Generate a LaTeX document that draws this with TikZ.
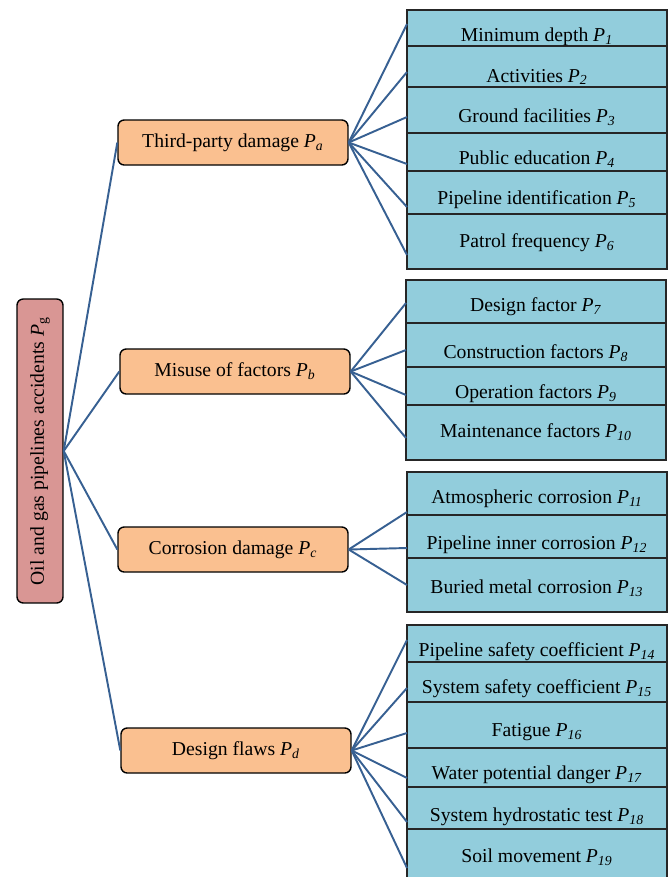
\documentclass[tikz,border=0pt]{standalone}
\usepackage{fontspec}
\setmainfont{Liberation Serif}
\usetikzlibrary{positioning}

\definecolor{rootred}{RGB}{217,150,148}
\definecolor{catorange}{RGB}{250,192,144}
\definecolor{leafblue}{RGB}{146,205,220}
\definecolor{linkblue}{RGB}{55,96,146}

\newcommand{\Pidx}[1]{\textit{P}\textsubscript{\textit{#1}}}

\begin{document}
\begin{tikzpicture}[x=0.02cm, y=-0.02cm,
	root/.style={rectangle, rounded corners=3.5pt, draw=black, fill=rootred, line width=0.8pt, minimum width=6.08cm, minimum height=0.92cm, inner sep=0pt, font=\fontsize{11.2}{13.4}\selectfont},
	cat/.style={rectangle, rounded corners=3.5pt, draw=black, fill=catorange, line width=0.8pt, minimum width=4.6cm, minimum height=0.9cm, inner sep=0pt, font=\fontsize{11.2}{13.4}\selectfont},
	leaf/.style={rectangle, draw=black!85, fill=leafblue, line width=0.8pt, minimum width=5.2cm, outer sep=0pt, inner sep=0pt},
	leaftext/.style={inner sep=0pt, font=\fontsize{11.2}{13.4}\selectfont},
	link/.style={draw=linkblue, line width=1.1pt}]

	\useasboundingbox (0,0) rectangle (672,877);

	% root and the four groups
	\node[root, rotate=90] (pg) at (40,451) {Oil and gas pipelines accidents \textit{P}\textsubscript{g}};
	\node[cat] (pa) at (233,142.5) {Third-party damage \Pidx{a}};
	\node[cat] (pb) at (235,371.5) {Misuse of factors \Pidx{b}};
	\node[cat] (pc) at (233,549.5) {Corrosion damage \Pidx{c}};
	\node[cat] (pd) at (236,750.5) {Design flaws \Pidx{d}};

	\draw[link] (pg.south) -- (pa.west);
	\draw[link] (pg.south) -- (pb.west);
	\draw[link] (pg.south) -- (pc.west);
	\draw[link] (pg.south) -- (pd.west);

	% third-party damage
	\node[leaf, minimum height=0.72cm, anchor=north] (p1) at (537,10) {};
	\node[leaf, minimum height=0.82cm, below=0pt of p1] (p2) {};
	\node[leaf, minimum height=0.92cm, below=0pt of p2] (p3) {};
	\node[leaf, minimum height=0.76cm, below=0pt of p3] (p4) {};
	\node[leaf, minimum height=0.86cm, below=0pt of p4] (p5) {};
	\node[leaf, minimum height=1.10cm, below=0pt of p5] (p6) {};
	\node[leaftext] (t1) at (537,37) {Minimum depth \Pidx{1}};
	\node[leaftext] (t2) at (537,77) {Activities \Pidx{2}};
	\node[leaftext] (t3) at (537,117) {Ground facilities \Pidx{3}};
	\node[leaftext] (t4) at (537,159) {Public education \Pidx{4}};
	\node[leaftext] (t5) at (537,200) {Pipeline identification \Pidx{5}};
	\node[leaftext] (t6) at (537,243) {Patrol frequency \Pidx{6}};
	\coordinate (e1) at (407,24);
	\coordinate (e2) at (407,72);
	\coordinate (e3) at (407,117);
	\coordinate (e4) at (407,164);
	\coordinate (e5) at (407,207);
	\coordinate (e6) at (407,255);
	\draw[link] (pa.east) -- (e1);
	\draw[link] (pa.east) -- (e2);
	\draw[link] (pa.east) -- (e3);
	\draw[link] (pa.east) -- (e4);
	\draw[link] (pa.east) -- (e5);
	\draw[link] (pa.east) -- (e6);

	% misuse of factors
	\node[leaf, minimum height=0.86cm, anchor=north] (p7) at (536,280) {};
	\node[leaf, minimum height=0.88cm, below=0pt of p7] (p8) {};
	\node[leaf, minimum height=0.76cm, below=0pt of p8] (p9) {};
	\node[leaf, minimum height=1.10cm, below=0pt of p9] (p10) {};
	\node[leaftext] (t7) at (536,307) {Design factor \Pidx{7}};
	\node[leaftext] (t8) at (536,353) {Construction factors \Pidx{8}};
	\node[leaftext] (t9) at (536,394) {Operation factors \Pidx{9}};
	\node[leaftext] (t10) at (536,432) {Maintenance factors \Pidx{10}};
	\coordinate (e7) at (406,303);
	\coordinate (e8) at (406,350);
	\coordinate (e9) at (406,395);
	\coordinate (e10) at (406,438);
	\draw[link] (pb.east) -- (e7);
	\draw[link] (pb.east) -- (e8);
	\draw[link] (pb.east) -- (e9);
	\draw[link] (pb.east) -- (e10);

	% corrosion damage
	\node[leaf, minimum height=0.86cm, anchor=north] (p11) at (537,472) {};
	\node[leaf, minimum height=0.86cm, below=0pt of p11] (p12) {};
	\node[leaf, minimum height=1.08cm, below=0pt of p12] (p13) {};
	\node[leaftext] (t11) at (537,499) {Atmospheric corrosion \Pidx{11}};
	\node[leaftext] (t12) at (537,545) {Pipeline inner corrosion \Pidx{12}};
	\node[leaftext] (t13) at (537,588) {Buried metal corrosion \Pidx{13}};
	\coordinate (e11) at (407,512);
	\coordinate (e12) at (407,548);
	\coordinate (e13) at (407,585);
	\draw[link] (pc.east) -- (e11);
	\draw[link] (pc.east) -- (e12);
	\draw[link] (pc.east) -- (e13);

	% design flaws
	\node[leaf, minimum height=0.74cm, anchor=north] (p14) at (537,625) {};
	\node[leaf, minimum height=0.80cm, below=0pt of p14] (p15) {};
	\node[leaf, minimum height=0.92cm, below=0pt of p15] (p16) {};
	\node[leaf, minimum height=0.78cm, below=0pt of p16] (p17) {};
	\node[leaf, minimum height=0.84cm, below=0pt of p17] (p18) {};
	\node[leaf, minimum height=1.02cm, below=0pt of p18] (p19) {};
	\node[leaftext] (t14) at (537,652) {Pipeline safety coefficient \Pidx{14}};
	\node[leaftext] (t15) at (537,689) {System safety coefficient \Pidx{15}};
	\node[leaftext] (t16) at (537,732) {Fatigue \Pidx{16}};
	\node[leaftext] (t17) at (537,775) {Water potential danger \Pidx{17}};
	\node[leaftext] (t18) at (537,817) {System hydrostatic test \Pidx{18}};
	\node[leaftext] (t19) at (537,857) {Soil movement \Pidx{19}};
	\coordinate (e14) at (407,640);
	\coordinate (e15) at (407,688);
	\coordinate (e16) at (407,733);
	\coordinate (e17) at (407,778);
	\coordinate (e18) at (407,822);
	\coordinate (e19) at (407,868);
	\draw[link] (pd.east) -- (e14);
	\draw[link] (pd.east) -- (e15);
	\draw[link] (pd.east) -- (e16);
	\draw[link] (pd.east) -- (e17);
	\draw[link] (pd.east) -- (e18);
	\draw[link] (pd.east) -- (e19);
\end{tikzpicture}
\end{document}
